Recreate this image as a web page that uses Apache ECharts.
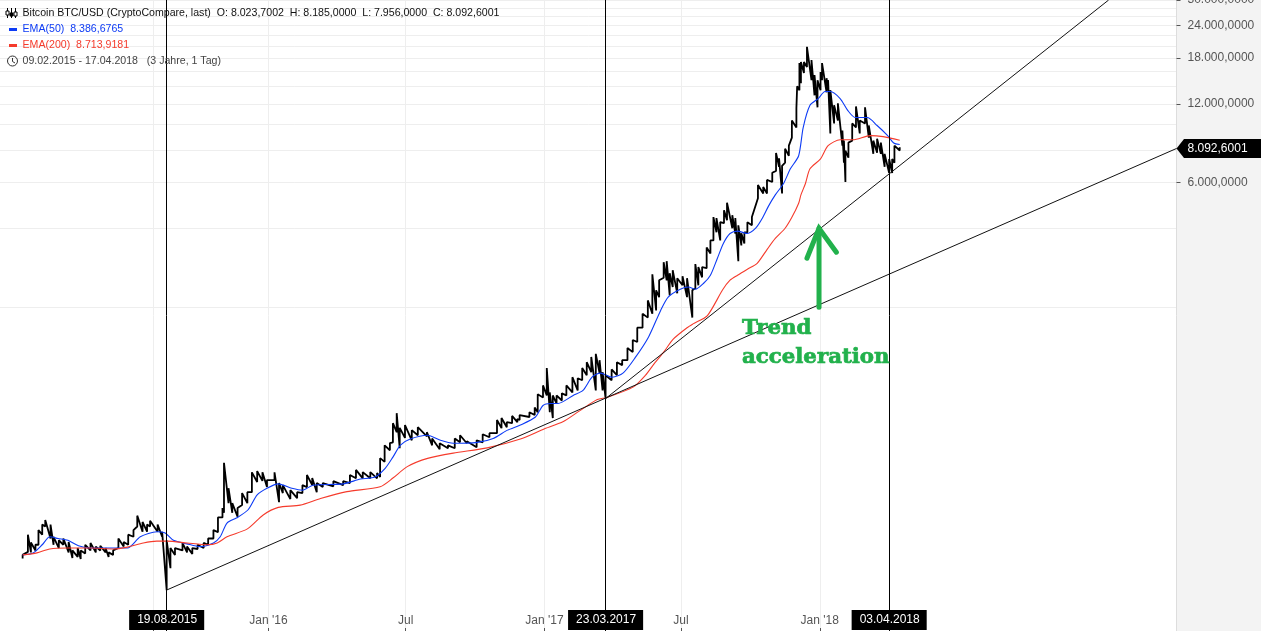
<!DOCTYPE html>
<html><head><meta charset="utf-8">
<style>html,body{margin:0;padding:0;background:#fff}#c{width:1261px;height:631px}</style>
<script src="https://cdn.jsdelivr.net/npm/echarts@6/dist/echarts.min.js"></script>
</head><body><div id="c"></div>
<script>
const startDate = Date.UTC(2015,1,9);
const priceDays = [0,7,11,17,21,26,30,37,41,48,54,61,66,73,77,83,90,97,103,110,114,120,127,134,140,147,152,159,165,169,179,185,191,196,202,212,218,225,232,240,246,253,259,265,267,273,278,285,291,298,304,311,318,324,334,340,345,355,364,371,377,384,390,398,412,425,434,442,451,461,470,474,480,487,491,496,500,507,516,524,536,543,553,564,573,580,589,602,610,619,629,635,642,649,656,659,672,679,683,690,695,699,703,708,715,721,729,736,742,748,754,760,765,769,773,781,788,795,802,809,815,822,829,835,840,844,850,854,858,862,868,875,881,888,892,896,901,907,912,916,920,925,930,934,941,945,949,953,957,961,967,975,982,987,994,999,1003,1007,1011,1016,1020,1026,1027,1030,1032,1036,1040,1046,1050,1054,1058,1060,1066,1068,1071,1076,1081,1087,1089,1091,1095,1100,1105,1110,1117,1122,1128,1133,1138,1143,1149,1153,1156,1163];
const priceHighs = [225,269,251,246,280,294,306,294,264,256,260,252,234,239,234,246,250,242,244,239,230,234,260,252,269,280,318,301,294,304,294,276,256,239,239,250,242,239,246,250,260,280,313,340,507,405,355,340,388,391,466,471,466,435,466,424,416,398,391,416,455,443,424,424,431,431,455,476,467,467,463,528,591,603,719,785,690,707,676,694,664,628,602,591,628,646,613,618,652,658,739,752,725,766,745,772,792,825,927,1003,1169,943,918,918,935,1003,1078,1068,1169,1230,1289,1325,1253,1127,1097,1155,1230,1253,1395,1497,1669,1887,2122,2672,2319,2535,2973,2999,2698,2770,2581,2627,2581,2319,2922,2846,2846,3380,3600,4425,4385,4233,4700,5024,4496,4385,4114,3837,3867,4227,4425,5870,5765,6137,6539,7786,7424,6950,8078,8303,10370,11540,14034,17200,17364,17364,19848,17680,15472,14798,15885,17200,15060,14798,13540,11850,12062,9488,8681,7942,8531,10100,11740,10370,11640,9919,8681,8833,8531,7726,7384,7384,8303,8185];
const priceLows = [218,231,230,234,246,269,289,260,246,239,246,230,219,221,217,228,234,230,234,230,221,225,239,242,246,264,289,276,276,289,276,264,165,200,225,234,230,227,237,239,246,260,275,313,326,355,326,315,349,355,391,428,432,409,435,358,388,368,371,388,409,416,391,409,412,416,424,442,442,442,442,447,511,566,607,664,576,631,618,646,640,591,571,576,576,607,602,581,607,635,658,688,693,719,725,739,759,772,792,902,918,792,752,854,878,918,943,959,1049,1097,1127,959,1117,959,893,1049,1097,1199,1253,1345,1471,1669,1823,1887,1941,2183,2591,2535,2219,2387,2259,2425,2183,1823,2361,2425,2601,2820,3207,3600,3867,3600,4192,4300,4009,3827,2999,3444,3502,3867,4114,5227,5450,5450,6029,6649,6891,5450,7143,7597,8913,9748,11640,13540,14406,15754,16609,14798,12947,11640,13540,14798,13300,13540,9245,10100,10370,8303,7143,6026,7465,8681,9748,9245,10100,8913,7726,7807,7726,6891,6519,6529,7143,7956];
const ema50Days = [0,14,26,36,47,60,74,90,112,139,156,178,189,200,218,235,253,262,271,284,299,311,324,339,357,371,385,425,448,467,481,491,501,514,537,554,571,603,624,643,660,680,690,700,710,730,743,755,766,782,796,812,830,846,856,872,883,892,903,912,921,929,938,948,961,972,981,989,998,1009,1018,1029,1035,1044,1055,1064,1071,1084,1094,1104,1120,1133,1147,1155,1163];
const ema50Values = [225,229,246,264,260,256,244,239,239,239,264,276,273,256,248,242,250,264,298,312,335,382,405,421,405,398,416,421,439,447,484,533,592,625,646,618,602,607,628,676,707,759,840,855,855,918,959,1078,1117,1078,1117,1278,1538,1943,2185,2341,2387,2341,2468,2650,3065,3500,3827,3908,3827,4010,4385,4872,5380,5950,6770,7600,9738,11850,12575,13380,13380,12575,11335,10640,10640,9919,9075,8500,8387];
const ema200Days = [0,19,36,59,90,120,139,160,178,192,218,245,258,271,298,319,339,368,395,430,474,491,510,537,571,616,660,690,717,739,762,775,810,826,836,850,863,881,889,908,928,938,948,961,974,987,998,1011,1020,1029,1032,1038,1044,1058,1068,1084,1101,1124,1141,1163];
const ema200Values = [225,229,237,239,239,237,241,250,254,254,250,246,250,264,283,320,342,349,370,393,410,443,490,527,552,578,625,680,729,803,885,902,990,1097,1199,1345,1511,1668,1725,1857,2325,2535,2650,2795,2943,3322,3664,4010,4417,5000,5380,5950,6770,7395,8300,8752,8752,9075,8990,8714];
const trendLow = [[191,165],[1530,8100]];
const trendHigh = [[773,893],[1440,30000]];
const arrowShaft = [[1056,1997],[1056,4007]];
const arrowHead = [[1040,3078],[1056,4007],[1079,3245]];
const yLabelValues = [6000,12000,18000,24000,30000];
const yGridValues = [2000,4000,6000,8000,10000,12000,14000,16000,18000,20000,22000,24000,26000,28000,30000];
const xTickDates = ['2015-08-01','2016-01-01','2016-07-01','2017-01-01','2017-07-01','2018-01-01'];
const xLabelDates = ['2016-01-01','2016-07-01','2017-01-01','2017-07-01','2018-01-01'];
const xLabelTexts = ["Jan '16","Jul","Jan '17","Jul","Jan '18"];
const markerDates = ['2015-08-19','2017-03-23','2018-04-03'];
const markerTexts = ['19.08.2015','23.03.2017','03.04.2018'];
const lastClose = 8092.6001;

const DAY = 86400000;
const dayOf = s => Math.round((Date.parse(s+'T00:00:00Z') - startDate)/DAY);
const pricePath = [];
priceDays.forEach((d,i) => { pricePath.push([d, priceLows[i]]); pricePath.push([d, priceHighs[i]]); });
const zip = (ds,vs) => ds.map((d,i) => [d, vs[i]]);
const fmtPrice = v => String(Math.round(v)).replace(/\B(?=(\d{3})+$)/g,'.') + ',0000';
const GREEN = '#22b14c', FONT = '"Liberation Sans", Arial, sans-serif';
const plain = {type:'line', showSymbol:false, symbol:'none', silent:true, animation:false};

const chart = echarts.init(document.getElementById('c'), null, {renderer:'canvas'});
const t = (text,x,y,fill,extra) => ({type:'text', silent:true, z:50, style:Object.assign({text, x, y, fill, font:'10.6px '+FONT, textVerticalAlign:'middle'}, extra||{})});
const seg = (x1,y1,x2,y2,c,w) => ({type:'line', silent:true, z:50, shape:{x1,y1,x2,y2}, style:{stroke:c,lineWidth:w||1}});
const serif = 'bold 21.3px "DejaVu Serif", serif';
const chartGraphics = [
  {type:'rect', silent:true, z:-10, shape:{x:1176.5,y:0,width:85,height:631}, style:{fill:'#f3f3f3'}},
  seg(7.5,8,7.5,18,'#000'), {type:'rect',silent:true,z:50,shape:{x:6,y:11,width:3,height:4},style:{fill:'#fff',stroke:'#000'}},
  seg(11.5,8,11.5,18,'#000'), {type:'rect',silent:true,z:50,shape:{x:10,y:13,width:3,height:3},style:{fill:'#000',stroke:'#000'}},
  seg(15.5,8,15.5,18,'#000'), {type:'rect',silent:true,z:50,shape:{x:14,y:12,width:3,height:4},style:{fill:'#fff',stroke:'#000'}},
  t('Bitcoin BTC/USD (CryptoCompare, last)  O: 8.023,7002  H: 8.185,0000  L: 7.956,0000  C: 8.092,6001',22.5,13,'#111'),
  {type:'rect',silent:true,z:50,shape:{x:9,y:28,width:8,height:3},style:{fill:'#0d3bf5'}},
  t('EMA(50)  8.386,6765',22.5,29,'#0d3bf5'),
  {type:'rect',silent:true,z:50,shape:{x:9,y:44,width:8,height:3},style:{fill:'#f53b2c'}},
  t('EMA(200)  8.713,9181',22.5,45,'#f53b2c'),
  {type:'circle',silent:true,z:50,shape:{cx:12.5,cy:61,r:5},style:{fill:'none',stroke:'#333',lineWidth:1}},
  seg(12.5,58,12.5,61.5,'#333'), seg(12.5,61.5,15,63,'#333'),
  t('09.02.2015 - 17.04.2018   (3 Jahre, 1 Tag)',22.5,61,'#444'),
  {type:'text',silent:true,z:50,style:{text:'Trend',x:742,y:328,fill:GREEN,stroke:GREEN,lineWidth:0.7,font:serif,textVerticalAlign:'middle'}},
  {type:'text',silent:true,z:50,style:{text:'acceleration',x:742,y:357,fill:GREEN,stroke:GREEN,lineWidth:0.7,font:serif,textVerticalAlign:'middle'}}
];
const yBase = {type:'log', logBase:10, min:115, max:30000, position:'right'};
chart.setOption({
  animation:false,
  backgroundColor:'#fff',
  grid:{left:0, right:84.5, top:0, bottom:0, containLabel:false, outerBoundsMode:'none'},
  xAxis:{type:'value', min:-30, max:1530,
    axisLine:{show:false},
    axisTick:{show:true, inside:true, length:3, lineStyle:{color:'#555'}, customValues:xTickDates.map(dayOf)},
    splitLine:{show:true, lineStyle:{color:'#eeeeee', width:1}},
    axisLabel:{inside:true, margin:4, color:'#555', fontSize:12, fontFamily:'Liberation Sans', customValues:xLabelDates.map(dayOf), hideOverlap:false,
      formatter:v => xLabelTexts[xLabelDates.map(dayOf).indexOf(+v)] || ''}
  },
  yAxis:[
    Object.assign({}, yBase, {
      axisLine:{show:true, onZero:false, lineStyle:{color:'#dddddd'}},
      axisTick:{show:true, length:4, lineStyle:{color:'#555'}, customValues:yLabelValues},
      splitLine:{show:false},
      axisLabel:{show:true, margin:11, color:'#555', fontSize:12, fontFamily:'Liberation Sans', align:'left', customValues:yLabelValues, formatter:v=>fmtPrice(v)}
    }),
    Object.assign({}, yBase, {
      axisLine:{show:false, onZero:false}, axisLabel:{show:false},
      axisTick:{show:false, customValues:yGridValues},
      splitLine:{show:true, lineStyle:{color:'#eeeeee', width:1}}
    })
  ],
  graphic:chartGraphics,
  series:[
    Object.assign({}, plain, {name:'BTC/USD', data:pricePath, lineStyle:{color:'#000', width:1.8}, z:3,
      markLine:{silent:true, symbol:'none', animation:false, precision:0,
        lineStyle:{color:'#000', width:1, type:'solid'},
        label:{show:true, position:'start', distance:-21, rotate:0, color:'#fff', backgroundColor:'#000', padding:[4,7,4,8], fontSize:12, fontFamily:'Liberation Sans',
          formatter:p => markerTexts[p.dataIndex]},
        data:markerDates.map(d => ({xAxis:dayOf(d)}))}
    }),
    Object.assign({}, plain, {name:'EMA(50)', smooth:0.25, data:zip(ema50Days,ema50Values), lineStyle:{color:'#0d3bf5', width:1.1}, z:4}),
    Object.assign({}, plain, {name:'EMA(200)', smooth:0.25, data:zip(ema200Days,ema200Values), lineStyle:{color:'#f53b2c', width:1.1}, z:4}),
    Object.assign({}, plain, {name:'Trend 1', data:trendLow, lineStyle:{color:'#111', width:1}, z:5}),
    Object.assign({}, plain, {name:'Trend 2', data:trendHigh, lineStyle:{color:'#111', width:1}, z:5}),
    Object.assign({}, plain, {name:'Arrow shaft', data:arrowShaft, lineStyle:{color:GREEN, width:5, cap:'round'}, z:6}),
    Object.assign({}, plain, {name:'Arrow head', data:arrowHead, lineStyle:{color:GREEN, width:5, cap:'round', join:'miter'}, z:6})
  ]
});
const tagY = chart.convertToPixel({yAxisIndex:0}, lastClose);
chart.setOption({graphic: chartGraphics.concat([
  {type:'polygon', silent:true, z:60, shape:{points:[[1176.5,tagY],[1184,tagY-9.5],[1261,tagY-9.5],[1261,tagY+9.5],[1184,tagY+9.5]]}, style:{fill:'#000'}},
  {type:'text', silent:true, z:61, style:{text:'8.092,6001', x:1187.5, y:tagY, fill:'#fff', font:'12px '+FONT, textVerticalAlign:'middle'}}
])});
</script></body></html>
